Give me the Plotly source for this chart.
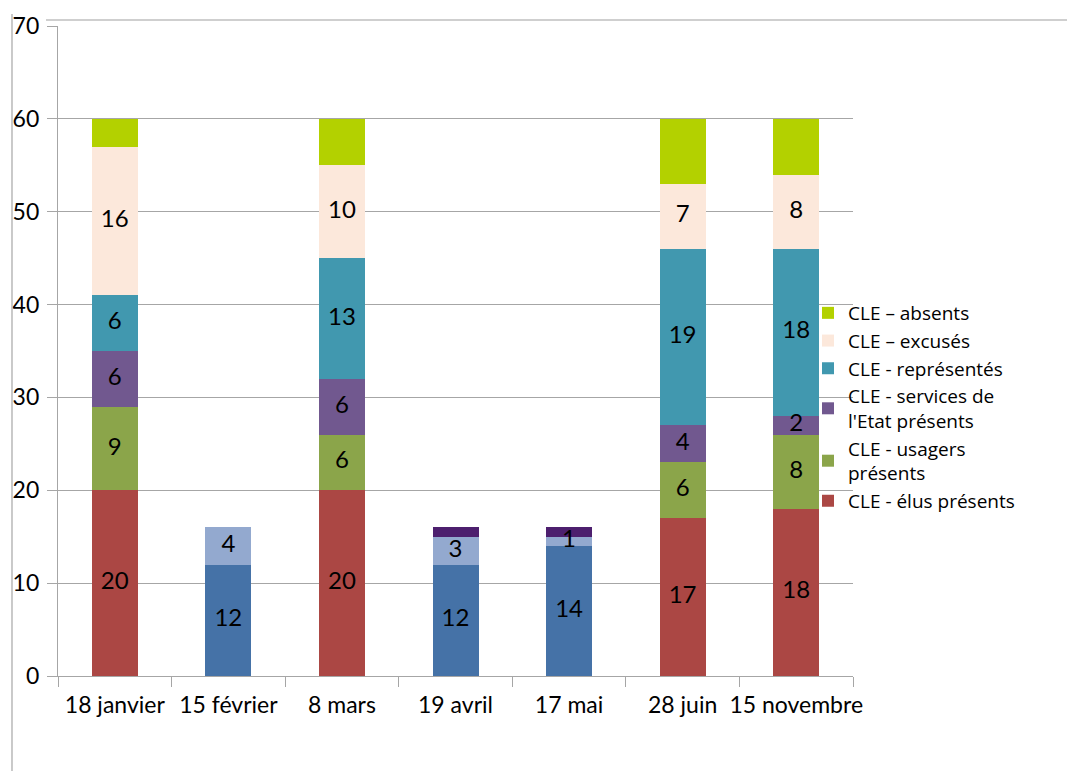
import numpy as np
import plotly.graph_objects as go

categories = ["18 janvier", "15 février", "8 mars", "19 avril", "17 mai", "28 juin", "15 novembre"]

elus = [20, 0, 20, 0, 0, 17, 18]
usagers = [9, 0, 6, 0, 0, 6, 8]
services = [6, 0, 6, 0, 0, 4, 2]
representes = [6, 0, 13, 0, 0, 19, 18]
excuses = [16, 0, 10, 0, 0, 7, 8]
absents = [3, 0, 5, 0, 0, 7, 6]
presents_bleu = [0, 12, 0, 12, 14, 0, 0]
presents_bleu_clair = [0, 4, 0, 3, 1, 0, 0]
autres_violet = [0, 0, 0, 1, 1, 0, 0]

y_ticks = [0, 10, 20, 30, 40, 50, 60, 70]

series = [
    ("CLE - élus présents", elus, "#AB4744", True, True),
    ("CLE - usagers<br>présents", usagers, "#8BA54A", True, True),
    ("CLE - services de<br>l'Etat présents", services, "#71588F", True, True),
    ("CLE - représentés", representes, "#4198AF", True, True),
    ("CLE – excusés", excuses, "#FCE8DB", True, True),
    ("CLE – absents", absents, "#B3D100", True, False),
    ("bleu", presents_bleu, "#4572A7", False, True),
    ("bleu clair", presents_bleu_clair, "#93A9CF", False, True),
    ("violet", autres_violet, "#4D1F6E", False, False),
]

# page offset of the figure (browser body margin)
OFF = 8
W, H = 1075, 771
ML, MT = 58 - OFF, 26 - OFF
PW, PH = 795, 650
MR, MB = W - ML - PW, H - MT - PH

fig = go.Figure()
base = np.zeros(len(categories))
lx, ly, lt = [], [], []
for name, vals, color, inleg, labeled in series:
    v = np.array(vals, dtype=float)
    fig.add_trace(go.Bar(
        x=categories, y=v, name=name, marker=dict(color=color, line=dict(width=0)),
        showlegend=inleg, hoverinfo="skip",
    ))
    if labeled:
        for i, val in enumerate(v):
            if val > 0:
                lx.append(categories[i])
                ly.append(base[i] + val / 2)
                lt.append(str(int(val)))
    base = base + v

fig.add_trace(go.Scatter(
    x=lx, y=ly, text=lt, mode="text", showlegend=False, hoverinfo="skip",
    textfont=dict(family="Lato", size=24, color="black"), textposition="middle center",
))

def px_x(p):
    return (p - OFF - ML) / PW

def px_y(p):
    return (MT + PH - (p - OFF)) / PH

line_col = "#A6A6A6"
fig.add_shape(type="line", xref="paper", yref="paper", x0=px_x(12), x1=px_x(12),
              y0=px_y(14), y1=px_y(779), line=dict(color=line_col, width=1.2))
fig.add_shape(type="line", xref="paper", yref="paper", x0=px_x(46), x1=px_x(1083),
              y0=px_y(20), y1=px_y(20), line=dict(color="#BFBFBF", width=1.5))

fig.update_layout(
    width=W, height=H,
    margin=dict(l=ML, r=MR, t=MT, b=MB, autoexpand=False),
    barmode="stack", bargap=0.595,
    plot_bgcolor="white", paper_bgcolor="white",
    font=dict(family="Lato", size=22, color="black"),
    showlegend=True,
    legend=dict(
        xref="container", yref="container", x=(808 - OFF) / W, y=1 - (294 - OFF) / H,
        xanchor="left", yanchor="top", traceorder="reversed",
        font=dict(family="Open Sans", size=19, color="black"),
        bgcolor="rgba(0,0,0,0)", itemclick=False, tracegroupgap=0,
    ),
    xaxis=dict(
        type="category", showgrid=False, showline=True, linecolor=line_col, linewidth=1.2,
        ticks="outside", tickson="boundaries", ticklen=10, tickcolor=line_col,
        tickfont=dict(family="Lato", size=23), tickangle=0, ticklabelstandoff=8,
        fixedrange=True, automargin=False,
    ),
    yaxis=dict(
        range=[0, 70], tickvals=y_ticks, showgrid=True, gridcolor="#A6A6A6", gridwidth=1.2,
        showline=True, linecolor=line_col, linewidth=1.2, ticks="outside", ticklen=10,
        tickcolor=line_col, tickfont=dict(family="Lato", size=23), ticklabelstandoff=3,
        zeroline=False, fixedrange=True, automargin=False,
    ),
)

fig.write_html("out.html")
